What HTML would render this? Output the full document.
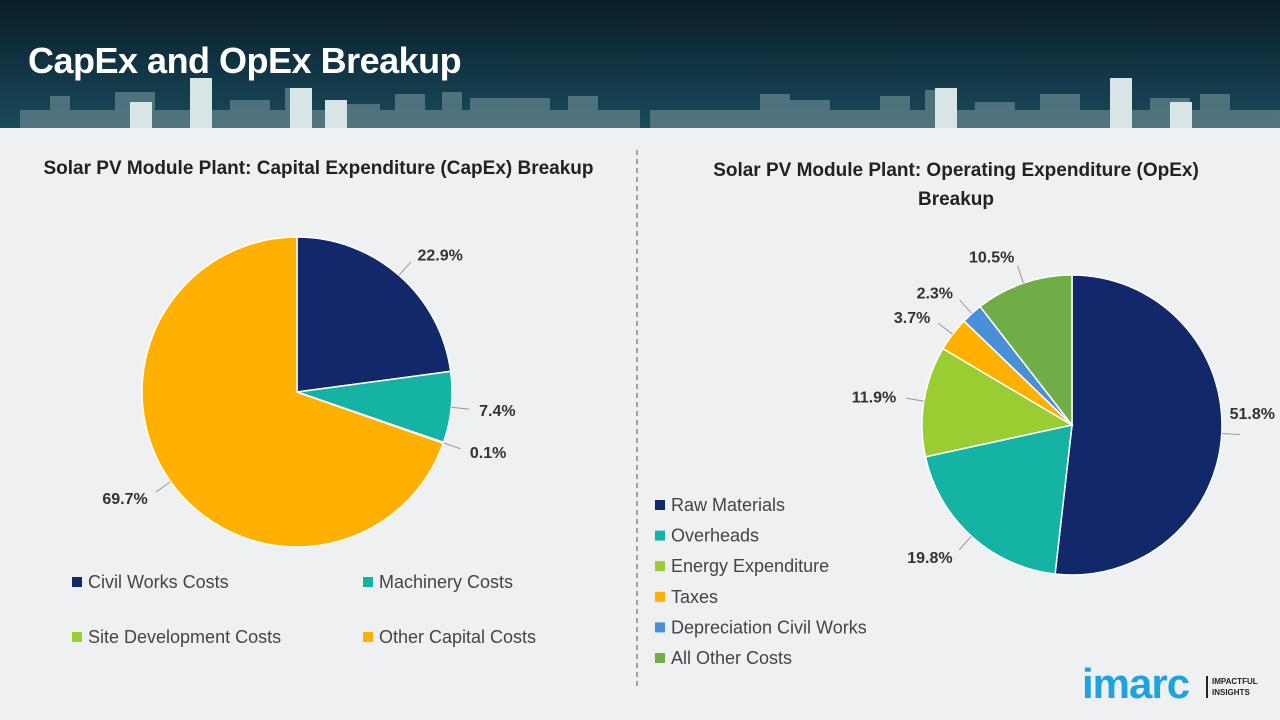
<!DOCTYPE html>
<html><head><meta charset="utf-8"><style>
body{margin:0;width:1280px;height:720px;overflow:hidden;font-family:"Liberation Sans",sans-serif;background:#eef0f1;position:relative}
#hdr{position:absolute;left:0;top:0;width:1280px;height:128px;background:linear-gradient(180deg,#0b1c28 0%,#123848 60%,#1a4a58 100%)}
#hdr h1{position:absolute;left:28px;top:40px;margin:0;color:#fff;font-size:36px;font-weight:bold;letter-spacing:-0.5px}
.t{position:absolute;font-weight:bold;color:#222;font-size:19px;text-align:center}
svg{position:absolute;left:0;top:0}
</style></head><body>
<div id="hdr">
<svg width="1280" height="128">
<g fill="#5d7f88" opacity="0.8">
<rect x="20" y="110" width="620" height="18"/><rect x="50" y="96" width="20" height="32"/><rect x="115" y="92" width="40" height="36"/><rect x="190" y="94" width="22" height="34"/><rect x="230" y="100" width="40" height="28"/><rect x="285" y="88" width="26" height="40"/><rect x="340" y="104" width="40" height="24"/><rect x="395" y="94" width="30" height="34"/><rect x="442" y="92" width="20" height="36"/><rect x="470" y="98" width="80" height="30"/><rect x="568" y="96" width="30" height="32"/>
<rect x="650" y="110" width="630" height="18"/><rect x="760" y="94" width="30" height="34"/><rect x="790" y="100" width="40" height="28"/><rect x="880" y="96" width="30" height="32"/><rect x="925" y="90" width="25" height="38"/><rect x="975" y="102" width="40" height="26"/><rect x="1040" y="94" width="40" height="34"/><rect x="1150" y="98" width="40" height="30"/><rect x="1200" y="94" width="30" height="34"/>
</g>
<g fill="#d8e4e6"><rect x="190" y="78" width="22" height="50"/><rect x="130" y="102" width="22" height="26"/><rect x="290" y="88" width="22" height="40"/><rect x="325" y="100" width="22" height="28"/><rect x="935" y="88" width="22" height="40"/><rect x="1110" y="78" width="22" height="50"/><rect x="1170" y="102" width="22" height="26"/></g>
</svg>
<h1>CapEx and OpEx Breakup</h1>
</div>
<div class="t" style="left:0;top:158px;width:637px">Solar PV Module Plant: Capital Expenditure (CapEx) Breakup</div>
<div class="t" style="left:676px;top:156px;width:560px;line-height:29px">Solar PV Module Plant: Operating Expenditure (OpEx) Breakup</div>
<svg id="chart" width="1280" height="720">
<line x1="637" y1="150" x2="637" y2="690" stroke="#777" stroke-dasharray="5,4" stroke-width="1.3"/>
</svg>
<div style="position:absolute;left:1082px;top:660px;font-size:42px;font-weight:bold;color:#1fa3dc;letter-spacing:-1px">imarc</div>
<div style="position:absolute;left:1206px;top:676px;border-left:2px solid #222;padding-left:4px;font-size:8px;font-weight:bold;color:#222;line-height:11px">IMPACTFUL<br>INSIGHTS</div>
<script>
const capexCats=["Civil Works Costs","Machinery Costs","Site Development Costs","Other Capital Costs"];
const capexVals=[22.9,7.4,0.1,69.7];
const opexCats=["Raw Materials","Overheads","Energy Expenditure","Taxes","Depreciation Civil Works","All Other Costs"];
const opexVals=[51.8,19.8,11.9,3.7,2.3,10.5];
const capexColors=["#13286b","#14b3a3","#9acd32","#ffb000"];
const opexColors=["#13286b","#14b3a3","#9acd32","#ffb000","#4a90d9","#70ad47"];
const NS="http://www.w3.org/2000/svg";
const svg=document.getElementById('chart');
function mk(t,a){const e=document.createElementNS(NS,t);for(const k in a)e.setAttribute(k,a[k]);svg.appendChild(e);return e;}
function pie(cx,cy,r,vals,cols,name){
 const tot=vals.reduce((a,b)=>a+b,0);let a0=0;
 vals.forEach((v,i)=>{
  const a1=a0+v/tot*2*Math.PI;
  const p=(a)=>[cx+r*Math.sin(a),cy-r*Math.cos(a)];
  const [x0,y0]=p(a0),[x1,y1]=p(a1);
  const path=mk('path',{d:`M${cx},${cy}L${x0},${y0}A${r},${r} 0 ${a1-a0>Math.PI?1:0} 1 ${x1},${y1}Z`,fill:cols[i],stroke:'#fff','stroke-width':1.5});
  
  
  const m=(a0+a1)/2,s=Math.sin(m),c=-Math.cos(m);
  let lx=cx+(r+28)*s,ly=cy+(r+28)*c;
  mk('line',{x1:cx+r*s,y1:cy+r*c,x2:cx+(r+18)*s,y2:cy+(r+18)*c,stroke:'#999','stroke-width':1});
  let anchor=s>=0?'start':'end';
  if(anchor==='start'&&lx+50>1275){lx=1275;anchor='end';ly-=22;}
  const t=mk('text',{x:lx,y:ly+6,'font-size':16,'font-weight':'bold',fill:'#333','text-anchor':anchor,'font-family':'Liberation Sans'});
  t.textContent=v.toFixed(1)+'%';
  
  
  a0=a1;
 });
}
pie(297,392,155,capexVals,capexColors,'capex');
pie(1072,425,150,opexVals,opexColors,'opex');
function leg(x,y,col,txt,name){
 const r=mk('rect',{x:x,y:y-5,width:10,height:10,fill:col});
 
 
 const t=mk('text',{x:x+16,y:y+6,'font-size':18,fill:'#444','font-family':'Liberation Sans'});
 t.textContent=txt;
 
 
}
capexCats.forEach((c,i)=>leg(i%2?363:72,i<2?582:637,capexColors[i],c,'capex-legend-entry'));
opexCats.forEach((c,i)=>leg(655,505+i*30.6,opexColors[i],c,'opex-legend-entry'));
</script>
</body></html>
